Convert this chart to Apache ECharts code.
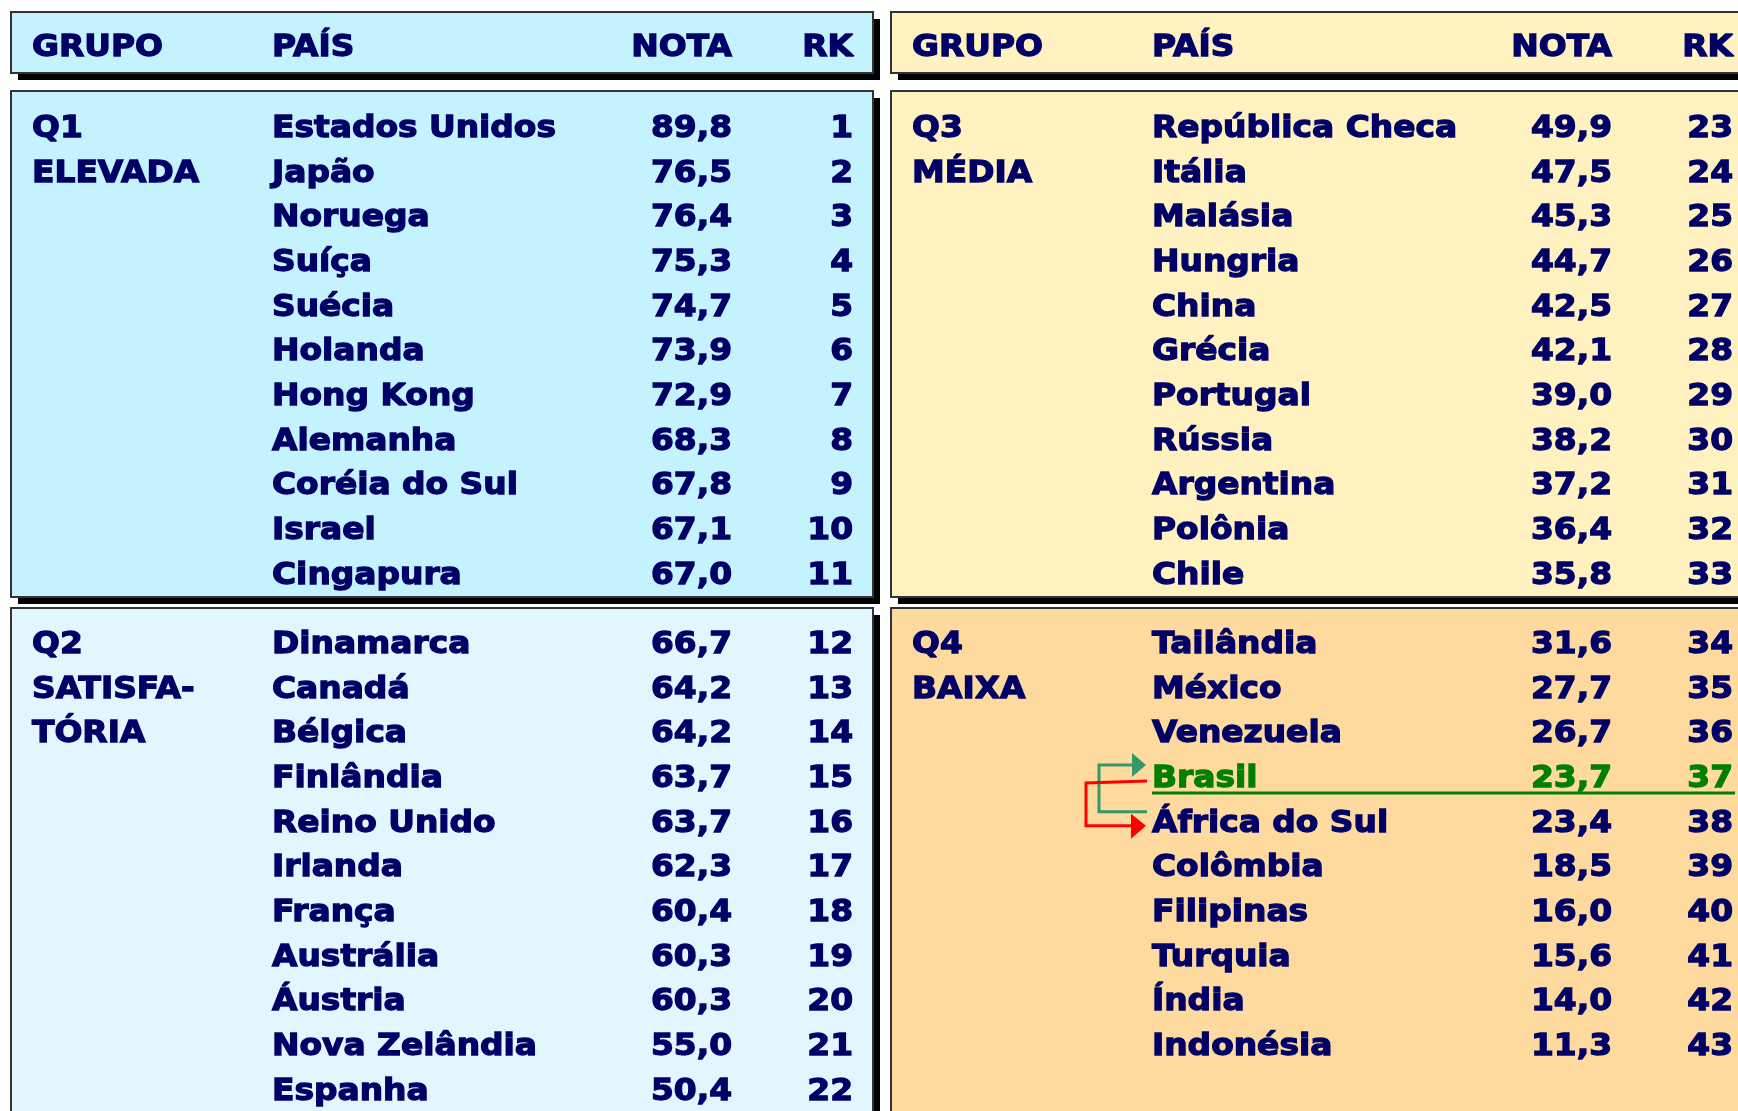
<!DOCTYPE html>
<html>
<head>
<meta charset="utf-8">
<title>Ranking</title>
<script src="https://cdn.jsdelivr.net/npm/echarts@6/dist/echarts.min.js"></script>
<style>
  html, body { margin: 0; padding: 0; background: #fff; }
  #main { width: 1738px; height: 1111px; }
</style>
</head>
<body>
<div id="main"></div>
<script>
// ---- dados ----
var headers = ['GRUPO', 'PAÍS', 'NOTA', 'RK'];

var q1Label = ['Q1', 'ELEVADA'];
var q1Paises = ['Estados Unidos', 'Japão', 'Noruega', 'Suíça', 'Suécia', 'Holanda', 'Hong Kong', 'Alemanha', 'Coréia do Sul', 'Israel', 'Cingapura'];
var q1Notas = [89.8, 76.5, 76.4, 75.3, 74.7, 73.9, 72.9, 68.3, 67.8, 67.1, 67.0];
var q1Rk = [1, 2, 3, 4, 5, 6, 7, 8, 9, 10, 11];

var q2Label = ['Q2', 'SATISFA-', 'TÓRIA'];
var q2Paises = ['Dinamarca', 'Canadá', 'Bélgica', 'Finlândia', 'Reino Unido', 'Irlanda', 'França', 'Austrália', 'Áustria', 'Nova Zelândia', 'Espanha'];
var q2Notas = [66.7, 64.2, 64.2, 63.7, 63.7, 62.3, 60.4, 60.3, 60.3, 55.0, 50.4];
var q2Rk = [12, 13, 14, 15, 16, 17, 18, 19, 20, 21, 22];

var q3Label = ['Q3', 'MÉDIA'];
var q3Paises = ['República Checa', 'Itália', 'Malásia', 'Hungria', 'China', 'Grécia', 'Portugal', 'Rússia', 'Argentina', 'Polônia', 'Chile'];
var q3Notas = [49.9, 47.5, 45.3, 44.7, 42.5, 42.1, 39.0, 38.2, 37.2, 36.4, 35.8];
var q3Rk = [23, 24, 25, 26, 27, 28, 29, 30, 31, 32, 33];

var q4Label = ['Q4', 'BAIXA'];
var q4Paises = ['Tailândia', 'México', 'Venezuela', 'Brasil', 'África do Sul', 'Colômbia', 'Filipinas', 'Turquia', 'Índia', 'Indonésia'];
var q4Notas = [31.6, 27.7, 26.7, 23.7, 23.4, 18.5, 16.0, 15.6, 14.0, 11.3];
var q4Rk = [34, 35, 36, 37, 38, 39, 40, 41, 42, 43];

var destaque = 'Brasil';        // linha sublinhada em verde
var trocaDe = 'Brasil', trocaPara = 'África do Sul';   // setas

// ---- layout ----
var W = 1738, H = 1111;
var panelDx = 880;
var colGrupo = 32, colPais = 272, colNota = 732, colRk = 853;
var headerY = 44;
var rowStep = 44.67;
var topFirst = 125, bottomFirst = 641;
var textDy = 4;                 // DejaVu fica um pouco alta no 'middle'
var navy = '#000066';
var font = 'bold 31px "DejaVu Sans", Verdana, sans-serif';

var panels = [
  { dx: 0, head: '#c4f3ff', top: '#c4f3ff', bottom: '#e2f6ff' },
  { dx: panelDx, head: '#fff2c0', top: '#fff2c0', bottom: '#ffda9e' }
];
var boxRows = [[12, 73], [91, 597], [608, 1140]];

var blocks = [
  { panel: 0, first: topFirst, label: q1Label, paises: q1Paises, notas: q1Notas, rk: q1Rk },
  { panel: 0, first: bottomFirst, label: q2Label, paises: q2Paises, notas: q2Notas, rk: q2Rk },
  { panel: 1, first: topFirst, label: q3Label, paises: q3Paises, notas: q3Notas, rk: q3Rk },
  { panel: 1, first: bottomFirst, label: q4Label, paises: q4Paises, notas: q4Notas, rk: q4Rk }
];

// caixas
var boxData = [], boxFill = [];
panels.forEach(function (p) {
  [p.head, p.top, p.bottom].forEach(function (c, i) {
    boxData.push([11 + p.dx, boxRows[i][0], 873 + p.dx, boxRows[i][1]]);
    boxFill.push(c);
  });
});

// textos
var cellData = [], cellInfo = [];
function addCell(x, y, text, align, color) {
  cellData.push([x, y]);
  cellInfo.push({ text: text, align: align, color: color });
}
function fmt(v) { return v.toFixed(1).replace('.', ','); }

panels.forEach(function (p) {
  addCell(colGrupo + p.dx, headerY, headers[0], 'left', navy);
  addCell(colPais + p.dx, headerY, headers[1], 'left', navy);
  addCell(colNota + p.dx, headerY, headers[2], 'right', navy);
  addCell(colRk + p.dx, headerY, headers[3], 'right', navy);
});

var rowY = {};
blocks.forEach(function (b) {
  var dx = panels[b.panel].dx;
  b.label.forEach(function (t, i) {
    addCell(colGrupo + dx, b.first + i * rowStep, t, 'left', navy);
  });
  b.paises.forEach(function (name, i) {
    var y = b.first + i * rowStep;
    var c = name === destaque ? '#008000' : navy;
    rowY[name] = { y: y, dx: dx };
    addCell(colPais + dx, y, name, 'left', c);
    addCell(colNota + dx, y, fmt(b.notas[i]), 'right', c);
    addCell(colRk + dx, y, String(b.rk[i]), 'right', c);
  });
});

var hl = rowY[destaque];
var from = rowY[trocaDe], to = rowY[trocaPara];

var chart = echarts.init(document.getElementById('main'), null, { renderer: 'canvas' });

chart.setOption({
  backgroundColor: '#ffffff',
  animation: false,
  grid: { left: 0, right: 0, top: 0, bottom: 0 },
  xAxis: { type: 'value', min: 0, max: W, show: false },
  yAxis: { type: 'value', min: 0, max: H, inverse: true, show: false },
  series: [
    {
      type: 'custom',
      silent: true,
      data: boxData,
      renderItem: function (params, api) {
        var a = api.coord([api.value(0), api.value(1)]);
        var b = api.coord([api.value(2), api.value(3)]);
        return {
          type: 'group',
          children: [
            { type: 'rect', shape: { x: a[0] + 7, y: a[1] + 7, width: b[0] - a[0], height: b[1] - a[1] },
              style: { fill: '#000' } },
            { type: 'rect', shape: { x: a[0], y: a[1], width: b[0] - a[0], height: b[1] - a[1] },
              style: { fill: boxFill[params.dataIndex], stroke: '#333333', lineWidth: 2 } }
          ]
        };
      }
    },
    {
      // sublinhado do Brasil e setas
      type: 'custom',
      silent: true,
      data: [[hl.y]],
      renderItem: function (params, api) {
        var p0 = api.coord([colPais + hl.dx, hl.y + 18]);
        var p1 = api.coord([colRk + hl.dx + 2, hl.y + 18]);
        var ax = colPais + from.dx;
        var g1 = api.coord([ax - 5, to.y - 8]);
        var g2 = api.coord([ax - 53, to.y - 8]);
        var g3 = api.coord([ax - 53, from.y - 10]);
        var g4 = api.coord([ax - 20, from.y - 10]);
        var gt = api.coord([ax - 6, from.y - 10]);
        var r1 = api.coord([ax - 5, from.y + 6]);
        var r2 = api.coord([ax - 66, from.y + 8]);
        var r3 = api.coord([ax - 66, to.y + 6]);
        var r4 = api.coord([ax - 21, to.y + 6]);
        var rt = api.coord([ax - 6, to.y + 6]);
        return {
          type: 'group',
          children: [
            { type: 'line', shape: { x1: p0[0], y1: p0[1], x2: p1[0], y2: p1[1] },
              style: { stroke: '#008000', lineWidth: 3 } },
            { type: 'polyline', shape: { points: [g1, g2, g3, g4] },
              style: { stroke: '#339966', lineWidth: 3, fill: null } },
            { type: 'polygon', shape: { points: [[g4[0], gt[1] - 12], [gt[0], gt[1]], [g4[0], gt[1] + 12]] },
              style: { fill: '#339966' } },
            { type: 'polyline', shape: { points: [r1, r2, r3, r4] },
              style: { stroke: '#ff0000', lineWidth: 3, fill: null } },
            { type: 'polygon', shape: { points: [[r4[0], rt[1] - 12], [rt[0], rt[1]], [r4[0], rt[1] + 13]] },
              style: { fill: '#ff0000' } }
          ]
        };
      }
    },
    {
      type: 'custom',
      silent: true,
      data: cellData,
      renderItem: function (params, api) {
        var info = cellInfo[params.dataIndex];
        var p = api.coord([api.value(0), api.value(1) + textDy]);
        return {
          type: 'text',
          x: p[0],
          y: p[1],
          scaleX: 1.06,
          style: {
            x: 0,
            y: 0,
            text: info.text,
            font: font,
            fill: info.color,
            stroke: info.color,
            lineWidth: 1.3,
            align: info.align,
            verticalAlign: 'middle',
            textShadowColor: '#a6a6c6',
            textShadowOffsetX: 3,
            textShadowOffsetY: 3
          }
        };
      }
    }
  ]
});
</script>
</body>
</html>
